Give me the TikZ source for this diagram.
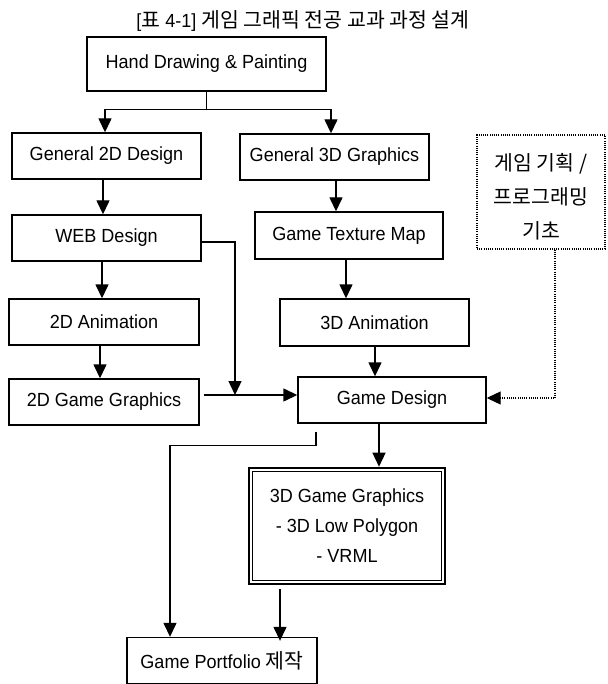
\documentclass[tikz,border=0pt]{standalone}
\usepackage{fontspec}
\usepackage{graphicx}
\setmainfont{Liberation Sans}[FakeStretch=0.95]
\newfontfamily\krfont{Noto Sans CJK KR}
\newcommand{\K}[1]{{\krfont\fontsize{20.5}{23}\selectfont #1}}
\newcommand{\fs}{\fontsize{19}{22}\selectfont}
\usetikzlibrary{arrows.meta}
\begin{document}
\begin{tikzpicture}[x=1pt,y=-1pt,
  box/.style={draw, line width=1.4pt, inner sep=0pt, font=\fs, align=center},
  dotbox/.style={draw, dash pattern=on 1pt off 1.2pt, line width=1.1pt, inner sep=0pt, font=\fs, align=center},
  dblbox/.style={draw, line width=2.6pt, inner sep=0pt, font=\fs, align=center},
  arr/.style={-{Triangle[width=13pt,length=14pt]}, line width=1.4pt},
  plainline/.style={line width=1.4pt},
  dotarr/.style={-{Triangle[width=13pt,length=14pt]}, line width=1.1pt, dash pattern=on 1pt off 1.2pt}]
\useasboundingbox (0,0) rectangle (607,684);

\node[font=\fs] (title) at (303,21) {[\K{표} 4-1] \K{게임 그래픽 전공 교과 과정 설계}};

\node[box, minimum width=239, minimum height=54] (hd) at (206.5,64) {Hand Drawing \& Painting};
\node[box, minimum width=189, minimum height=46] (g2d) at (106.5,156) {General 2D Design};
\node[box, minimum width=189, minimum height=46] (g3d) at (334.5,157) {General 3D Graphics};
\node[dotbox, minimum width=128, minimum height=114] (plan) at (541,192) {\rule{0pt}{27pt}\K{게임 기획 /}\\[12pt]\K{프로그래밍}\\[12pt]\K{기초}};
\node[box, minimum width=189, minimum height=46] (web) at (106.5,238) {WEB Design};
\node[box, minimum width=188, minimum height=47] (gtm) at (349,235.5) {Game Texture Map};
\node[box, minimum width=190, minimum height=46] (a2d) at (104,322) {2D Animation};
\node[box, minimum width=189, minimum height=47] (a3d) at (374.5,322.5) {3D Animation};
\node[box, minimum width=190, minimum height=46] (gg2) at (104,402) {2D Game Graphics};
\node[box, minimum width=188, minimum height=46] (gd) at (392,400) {Game Design};
\node[dblbox, minimum width=196, minimum height=116] (gg3) at (347,526) {3D Game Graphics\\[8pt]- 3D Low Polygon\\[8pt]- VRML};
\draw[line width=1.4pt] ([shift={(5,5)}]gg3.north west) rectangle ([shift={(-5,-5)}]gg3.south east);
\node[box, minimum width=190, minimum height=46] (port) at (222,660.5) {Game Portfolio \K{제작}};

% Hand Drawing split
\draw[plainline] (hd.south) -- ++(0,18) coordinate (j1);
\draw[arr] (j1) -| ([xshift=-1.5pt]g2d.north);
\draw[arr] (j1) -| ([xshift=-3.5pt]g3d.north);

% left column
\draw[arr] ([xshift=-3.5pt]g2d.south) -- ([xshift=-3.5pt]web.north);
\draw[arr] ([xshift=-4.5pt]web.south) -- ([xshift=-2pt]a2d.north);
\draw[arr] ([xshift=-4pt]a2d.south) -- ([xshift=-4pt]gg2.north);

% middle column
\draw[arr] ([xshift=1.5pt]g3d.south) -- ([xshift=1.5pt]g3d.south |- gtm.north);
\draw[arr] ([xshift=-3pt]gtm.south) -- ([xshift=-3pt]gtm.south |- a3d.north);
\draw[arr] ([xshift=0.5pt]a3d.south) -- ([xshift=0.5pt]a3d.south |- gd.north);

% WEB -> junction
\coordinate (m) at (235,395);
\draw[arr] ([yshift=-4pt]web.east) -| (m);
\draw[arr] ([xshift=4pt]gg2.east |- m) -- (gd.west |- m);

% planning -> Game Design (dotted)
\draw[dotarr] ([xshift=14pt]plan.south) |- ([yshift=2pt]gd.east);

% Game Design -> 3D Game Graphics
\draw[arr] ([xshift=-13pt]gd.south) -- ([xshift=-13pt]gd.south |- gg3.north);

% Game Design -> Portfolio
\draw[arr] ([shift={(-76,8)}]gd.south) -- ++(0,14) -| ([xshift=-52pt]port.north);

% 3D Game Graphics -> Portfolio
\draw[arr] ([shift={(-67,4)}]gg3.south) -- ([shift={(-67,4)}]gg3.south |- port.north);
\end{tikzpicture}
\end{document}
